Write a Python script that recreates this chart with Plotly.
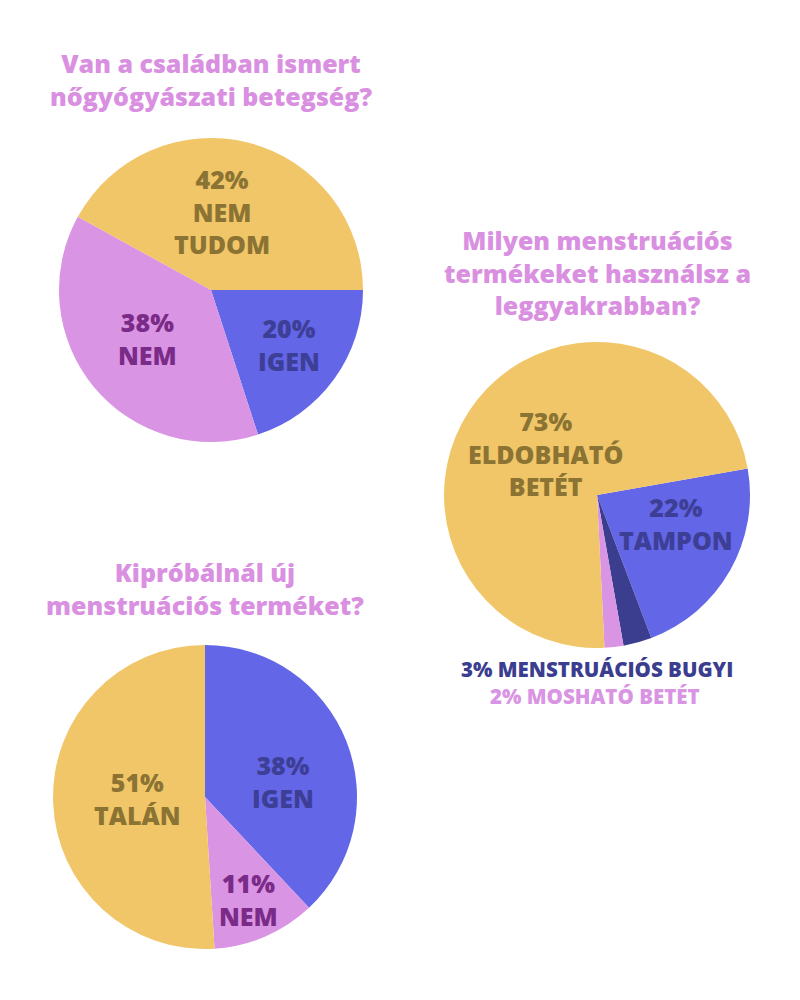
#!/usr/bin/env python3
"""Three survey pies (Hungarian questionnaire) rebuilt with Plotly."""

import plotly.graph_objects as go

# --- data -----------------------------------------------------------------
family_labels = ["IGEN", "NEM", "NEM TUDOM"]
family_values = [20, 38, 42]

products_labels = ["TAMPON", "MENSTRUÁCIÓS BUGYI", "MOSHATÓ BETÉT", "ELDOBHATÓ BETÉT"]
products_values = [22, 3, 2, 73]

try_labels = ["IGEN", "NEM", "TALÁN"]
try_values = [38, 11, 51]

titles = [
    "Van a családban ismert<br>nőgyógyászati betegség?",
    "Milyen menstruációs<br>termékeket használsz a<br>leggyakrabban?",
    "Kipróbálnál új<br>menstruációs terméket?",
]

# --- styling --------------------------------------------------------------
W, H = 800, 1000
PAGE_OFFSET = 8  # browser body margin shifts the whole figure
FONT = "Open Sans"
YELLOW, BLUE, PINK, NAVY = "#F1C669", "#6366E6", "#D994E3", "#3B3E8F"
OLIVE, PURPLE, TITLE_PINK = "#8B7433", "#7A2A87", "#DA90E1"

TEXT_ON = {YELLOW: OLIVE, BLUE: "#3D3F96", PINK: PURPLE}


def px_x(x):
    return (x - PAGE_OFFSET) / W


def px_y(y):
    return 1 - (y - PAGE_OFFSET) / H


def domain(cx, cy, r):
    return {"x": [px_x(cx - r), px_x(cx + r)], "y": [px_y(cy + r), px_y(cy - r)]}


def label_text(value, label):
    return f"{value}%<br>" + label.replace(" ", "<br>")


fig = go.Figure()

pies = [
    # values, labels, colors, centre (px), radius, rotation
    (family_values, family_labels, [BLUE, PINK, YELLOW], (211, 290), 152, 90),
    (products_values, products_labels, [BLUE, NAVY, PINK, YELLOW], (597, 495), 153, 80),
    (try_values, try_labels, [BLUE, PINK, YELLOW], (205, 797), 152, 0),
]

for values, labels, colors, (cx, cy), r, rot in pies:
    fig.add_trace(
        go.Pie(
            values=values,
            labels=labels,
            marker={"colors": colors, "line": {"width": 0}},
            sort=False,
            direction="clockwise",
            rotation=rot,
            textinfo="none",
            hovertemplate="%{label}: %{percent}<extra></extra>",
            domain=domain(cx, cy, r),
            showlegend=False,
        )
    )

annotations = []

# titles
for text, (cx, cy) in zip(titles, [(211, 80), (597, 272), (205, 588)]):
    annotations.append(
        dict(
            text=text, x=px_x(cx), y=px_y(cy), xref="paper", yref="paper",
            showarrow=False, xanchor="center", yanchor="middle",
            font={"family": FONT, "size": 25, "color": TITLE_PINK, "weight": 800},
        )
    )

# in-slice labels
slice_labels = [
    (family_values[2], "NEM TUDOM", YELLOW, (222, 212)),
    (family_values[1], "NEM", PINK, (147, 339)),
    (family_values[0], "IGEN", BLUE, (289, 344)),
    (products_values[3], "ELDOBHATÓ BETÉT", YELLOW, (545, 453)),
    (products_values[0], "TAMPON", BLUE, (676, 523)),
    (try_values[0], "IGEN", BLUE, (283, 781)),
    (try_values[2], "TALÁN", YELLOW, (137, 798)),
    (try_values[1], "NEM", PINK, (248, 899)),
]
for value, label, fill, (cx, cy) in slice_labels:
    annotations.append(
        dict(
            text=label_text(value, label), x=px_x(cx), y=px_y(cy), xref="paper", yref="paper",
            showarrow=False, xanchor="center", yanchor="middle",
            font={"family": FONT, "size": 25, "color": TEXT_ON[fill], "weight": 800},
        )
    )

# small slices labelled under the pie
for value, label, color, (cx, cy) in [
    (products_values[1], products_labels[1], NAVY, (597, 669)),
    (products_values[2], products_labels[2], PINK, (595, 696)),
]:
    annotations.append(
        dict(
            text=f"{value}% {label}", x=px_x(cx), y=px_y(cy), xref="paper", yref="paper",
            showarrow=False, xanchor="center", yanchor="middle",
            font={"family": FONT, "size": 20.5, "color": color, "weight": 800},
        )
    )

fig.update_layout(
    width=W,
    height=H,
    margin={"l": 0, "r": 0, "t": 0, "b": 0},
    paper_bgcolor="white",
    plot_bgcolor="white",
    annotations=annotations,
)

fig.write_html("out.html")
